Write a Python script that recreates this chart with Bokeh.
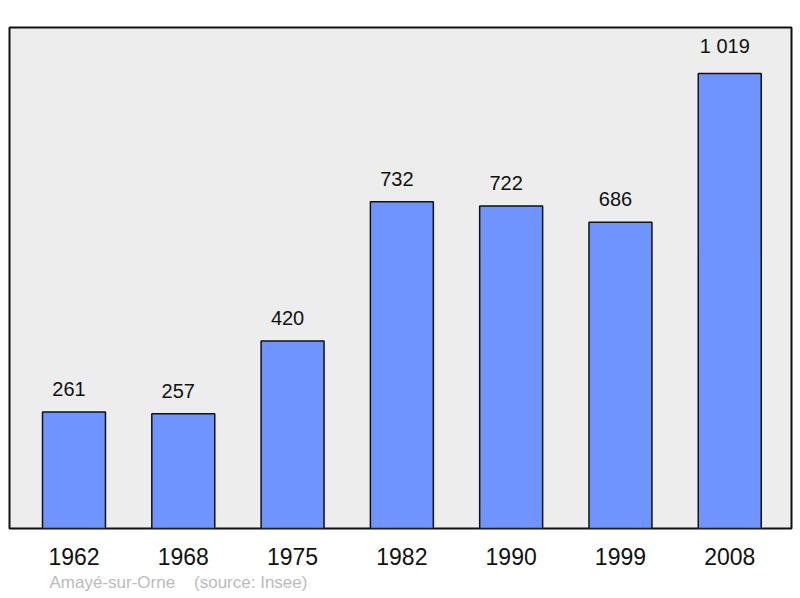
from bokeh.plotting import figure
from bokeh.models import ColumnDataSource, LabelSet, Range1d, FixedTicker, Title
from bokeh.core.properties import value
from bokeh.embed import file_html
from bokeh.resources import INLINE

years = ["1962", "1968", "1975", "1982", "1990", "1999", "2008"]
population = [261, 257, 420, 732, 722, 686, 1019]
value_labels = ["261", "257", "420", "732", "722", "686", "1 019"]
source_text = "Amayé-sur-Orne\u00a0\u00a0\u00a0\u00a0(source: Insee)"

xs = list(range(len(years)))
src = ColumnDataSource(dict(x=xs, top=population, year=years, lab=value_labels))

p = figure(width=800, height=598, output_backend="svg", toolbar_location=None,
           x_range=Range1d(-0.59, 6.565), y_range=Range1d(0, 1122),
           min_border_left=9, min_border_right=9, min_border_top=27, min_border_bottom=70)
p.yaxis.visible = False
p.xgrid.visible = False
p.ygrid.visible = False
p.background_fill_color = "#ededed"
p.border_fill_color = "white"
p.outline_line_color = "#111111"
p.outline_line_width = 2

ax = p.xaxis[0]
ax.ticker = FixedTicker(ticks=xs)
ax.major_label_overrides = {i: y for i, y in zip(xs, years)}
ax.axis_line_color = None
ax.major_tick_line_color = None
ax.minor_tick_line_color = None
ax.major_label_standoff = 13
ax.major_label_text_font = "Liberation Sans"
ax.major_label_text_font_size = "23px"
ax.major_label_text_color = "#111111"

p.vbar(x="x", top="top", width=0.576, bottom=0, source=src,
       fill_color="#7094ff", line_color="#111111", line_width=1.5)

p.add_layout(LabelSet(x="x", y="top", text="lab", source=src, y_offset=16, x_offset=-5,
                      text_align="center", text_baseline="bottom",
                      text_font=value("Liberation Sans"), text_font_size=value("20px"),
                      text_color="#111111"))

t = Title(text=source_text, align="left", offset=40, text_font="Liberation Sans",
          text_font_size="17px", text_font_style="normal", text_color="#bbbbbb",
          standoff=6)
p.add_layout(t, "below")

open("out.html", "w").write(file_html(p, INLINE))
